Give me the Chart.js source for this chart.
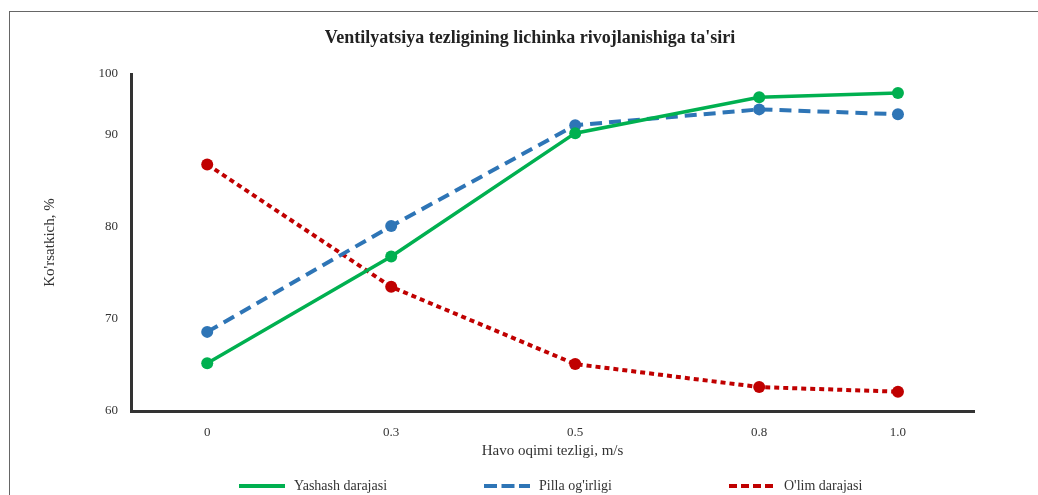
<!DOCTYPE html>
<html>
<head>
<meta charset="utf-8">
<script src="https://cdn.jsdelivr.net/npm/chart.js@4.4.1/dist/chart.umd.min.js"></script>
<style>
  body { margin: 0; background: #fff; overflow: hidden; }
  #frame { position: absolute; left: 9px; top: 11px; width: 1042px; height: 600px; border: 1px solid #666; }
  #title { position: absolute; left: 0; top: 15px; width: 1040px; text-align: center; font: bold 18px/20px "Liberation Serif", "Times New Roman", serif; color: #222; }
  #chartBox { position: absolute; left: 0; top: 0; width: 1040px; height: 483px; }
  #legend { position: absolute; left: 229px; top: 464px; display: flex; font: 14px "Liberation Serif", "Times New Roman", serif; color: #333; }
  .item { width: 245px; height: 20px; display: flex; align-items: center; }
  .item svg { margin-right: 9px; }
</style>
</head>
<body>
<div id="frame">
  <div id="chartBox"><canvas id="effectChart"></canvas></div>
  <div id="title">Ventilyatsiya tezligining lichinka rivojlanishiga ta'siri</div>
  <div id="legend"></div>
</div>
<script>
// data
const speedLabels = ["0", "0.3", "0.5", "0.8", "1.0"];
const yTicks = [60, 70, 80, 90, 100];
const seriesNames = ["Yashash darajasi", "Pilla og'irligi", "O'lim darajasi"];
const survivalRate = [65.2, 76.8, 90.3, 96.2, 96.9];
const cocoonWeight = [68.6, 80.1, 91.6, 94.2, 93.4];
const mortalityRate = [86.8, 73.5, 65.1, 62.6, 62.1];

const serif = '"Liberation Serif", "Times New Roman", serif';
const colors = ["#00B050", "#2E75B6", "#C00000"];
const dashes = [[], [12, 7], [5, 4]];
const legendDashes = ["", "13 4.5", "8 4"];

// the original axes squeeze their last interval, so map value-decimals piecewise
const warpKnots = {
  x: [[0, 0], [0.1, 0.0904], [0.7, 0.7452], [0.9, 0.9098], [1, 1]],
  y: [[0, 0], [0.75, 0.819], [1, 1]],
};

function warp(knots, d) {
  for (let i = 1; i < knots.length; i++) {
    const [a0, b0] = knots[i - 1];
    const [a1, b1] = knots[i];
    if (d <= a1 || i === knots.length - 1) {
      return b0 + ((d - a0) / (a1 - a0)) * (b1 - b0);
    }
  }
  return d;
}

class WarpedLinearScale extends Chart.LinearScale {
  static id = "warpedLinear";
  static defaults = Chart.LinearScale.defaults;
  getPixelForDecimal(decimal) {
    return super.getPixelForDecimal(warp(warpKnots[this.id], decimal));
  }
}

class WarpedCategoryScale extends Chart.CategoryScale {
  static id = "warpedCategory";
  static defaults = Chart.CategoryScale.defaults;
  getPixelForDecimal(decimal) {
    return super.getPixelForDecimal(warp(warpKnots[this.id], decimal));
  }
}

Chart.register(WarpedLinearScale, WarpedCategoryScale);

const seriesValues = [survivalRate, cocoonWeight, mortalityRate];

const datasets = seriesNames.map((name, i) => ({
  label: name,
  data: seriesValues[i],
  borderColor: colors[i],
  backgroundColor: colors[i],
  borderWidth: i === 0 ? 3.5 : 4,
  borderDash: dashes[i],
  pointRadius: 6,
  pointHoverRadius: 7,
  pointBorderWidth: 0,
  pointBackgroundColor: colors[i],
  tension: 0,
  fill: false,
}));

const ctx = document.getElementById("effectChart").getContext("2d");

new Chart(ctx, {
  type: "line",
  data: { labels: speedLabels, datasets },
  options: {
    responsive: true,
    maintainAspectRatio: false,
    animation: false,
    layout: { padding: { left: 31, right: 76, top: 62, bottom: 35 } },
    plugins: {
      legend: { display: false },
    },
    scales: {
      x: {
        type: "warpedCategory",
        offset: true,
        grid: { display: false, drawTicks: false },
        border: { color: "#333", width: 3 },
        ticks: { color: "#333", font: { family: serif, size: 13 }, padding: 14 },
        title: {
          display: true,
          text: "Havo oqimi tezligi, m/s",
          color: "#333",
          font: { family: serif, size: 15 },
          padding: 0,
        },
        afterFit: (scale) => { scale.height = 49; },
      },
      y: {
        type: "warpedLinear",
        min: 60,
        max: 100,
        afterBuildTicks: (scale) => { scale.ticks = yTicks.map((v) => ({ value: v })); },
        grid: { display: false, drawTicks: false },
        border: { color: "#333", width: 3 },
        ticks: { color: "#333", font: { family: serif, size: 13 }, padding: 13 },
        title: {
          display: true,
          text: "Ko'rsatkich, %",
          color: "#333",
          font: { family: serif, size: 15 },
          padding: 0,
        },
        afterFit: (scale) => { scale.width = 90; },
      },
    },
  },
});

// legend below, evenly spaced like the original
const legend = document.getElementById("legend");
seriesNames.forEach((name, i) => {
  const item = document.createElement("div");
  item.className = "item";
  item.innerHTML =
    '<svg width="46" height="6"><line x1="0" y1="3" x2="46" y2="3" stroke="' + colors[i] +
    '" stroke-width="4" stroke-dasharray="' + legendDashes[i] + '"/></svg>';
  const label = document.createElement("span");
  label.textContent = name;
  item.appendChild(label);
  legend.appendChild(item);
});
</script>
</body>
</html>
